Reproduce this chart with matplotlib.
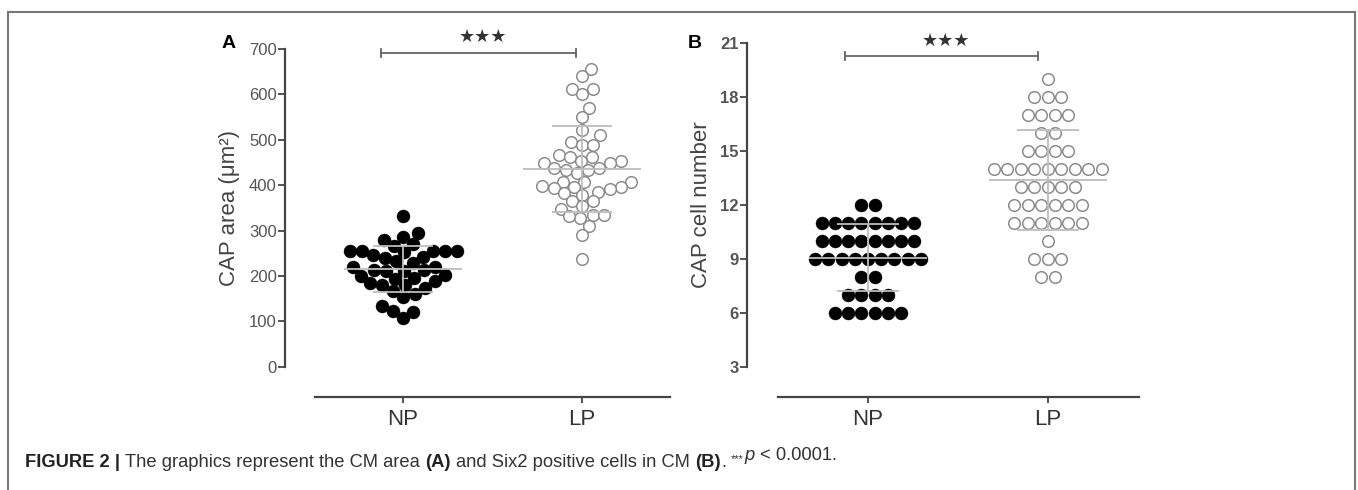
import numpy as np
import matplotlib
matplotlib.use("Agg")
import matplotlib.pyplot as plt
from matplotlib.lines import Line2D

plt.rcParams['font.family'] = ['Liberation Sans', 'DejaVu Sans']

# data
groups = ["NP", "LP"]
np_area = [333, 295, 286, 280, 271, 265, 256, 256, 256, 256, 256, 252, 246,
           242, 240, 232, 228, 220, 220, 214, 213, 211, 211, 203, 200, 196,
           193, 189, 185, 179, 179, 174, 167, 160, 153, 133, 123, 121, 107]
lp_area = [656, 640, 612, 611, 601, 570, 550, 521, 510, 495, 488, 489, 462,
           467, 462, 453, 453, 448, 448, 437, 433, 437, 433, 426, 408, 407,
           399, 393, 397, 408, 395, 392, 386, 382, 379, 364, 364, 353, 348,
           328, 335, 335, 331, 311, 291, 238]
np_cells = [12, 12,
            11, 11, 11, 11, 11, 11, 11, 11,
            10, 10, 10, 10, 10, 10, 10, 10,
            9, 9, 9, 9, 9, 9, 9, 9, 9,
            8, 8,
            7, 7, 7, 7,
            6, 6, 6, 6, 6, 6]
lp_cells = [19,
            18, 18, 18,
            17, 17, 17, 17,
            16, 16,
            15, 15, 15, 15,
            14, 14, 14, 14, 14, 14, 14, 14, 14,
            13, 13, 13, 13, 13,
            12, 12, 12, 12, 12, 12,
            11, 11, 11, 11, 11, 11,
            10,
            9, 9, 9,
            8, 8]
area_ticks = [0, 100, 200, 300, 400, 500, 600, 700]
cell_ticks = [3, 6, 9, 12, 15, 18, 21]

W, H = 1358, 490
fig = plt.figure(figsize=(W / 100, H / 100), dpi=100)


def box(l, t, r, b):
    return [l / W, 1 - b / H, (r - l) / W, (b - t) / H]


axA = fig.add_axes(box(285, 49, 670, 366.7))
axB = fig.add_axes(box(747, 42.7, 1139, 366.7))

AXC = '#444444'
DOT = 13.0  # marker diameter in px


def style(ax, ylim, yticks, xlim, xbounds, ylabel, bold):
    ax.set_xlim(xlim)
    ax.set_ylim(ylim)
    ax.patch.set_visible(False)
    for s in ['top', 'right']:
        ax.spines[s].set_visible(False)
    ax.spines['left'].set_bounds(ylim)
    ax.spines['bottom'].set_position(('outward', 21.5))
    ax.spines['bottom'].set_bounds(xbounds)
    for s in ['left', 'bottom']:
        ax.spines[s].set_color(AXC)
        ax.spines[s].set_linewidth(1.6)
    ax.set_yticks(yticks)
    ax.set_xticks([0, 1])
    ax.set_xticklabels(groups, fontsize=16, color='#333333')
    ax.tick_params(axis='y', length=5, width=1.3, color=AXC, pad=1,
                   labelsize=12, labelcolor='#555555')
    ax.tick_params(axis='x', length=4, width=1.3, color=AXC, pad=5)
    if bold:
        for t in ax.get_yticklabels():
            t.set_fontweight('bold')
    ax.set_ylabel(ylabel, fontsize=16, color='#444444', labelpad=6)


style(axA, (0, 700), area_ticks, (-0.659, 1.492), (-0.492, 1.492),
      'CAP area (μm²)', False)
style(axB, (3, 21), cell_ticks, (-0.672, 1.506), (-0.5, 1.506),
      'CAP cell number', True)


def px_scale(ax):
    o = ax.transData.transform((0, 0))
    x1 = ax.transData.transform((1, 0))
    y1 = ax.transData.transform((0, 1))
    return x1[0] - o[0], y1[1] - o[1]


def swarm(ax, vals, d):
    sx, sy = px_scale(ax)
    ypx = np.asarray(vals, float) * sy
    xs = np.zeros(len(ypx))
    placed = []
    for i in np.argsort(ypx):
        y = ypx[i]
        cands = [0.0]
        for px, py in placed:
            dy = y - py
            if abs(dy) < d:
                dx = np.sqrt(d * d - dy * dy)
                cands += [px + dx, px - dx]
        cands.sort(key=abs)
        for c in cands:
            if all((c - px) ** 2 + (y - py) ** 2 >= d * d - 1e-6
                   for px, py in placed):
                xs[i] = c
                break
        placed.append((xs[i], y))
    return xs / sx


def rows(ax, vals, d):
    sx, _ = px_scale(ax)
    vals = np.asarray(vals)
    xs = np.zeros(len(vals))
    for v in np.unique(vals):
        idx = np.where(vals == v)[0]
        n = len(idx)
        xs[idx] = (np.arange(n) - (n - 1) / 2) * d
    return xs / sx


def draw_points(ax, x0, vals, offs, filled):
    s = (DOT * 0.72) ** 2
    if filled:
        ax.scatter(x0 + offs, vals, s=s, c='black', edgecolors='black',
                   linewidths=0.3, zorder=2, clip_on=False)
    else:
        ax.scatter(x0 + offs, vals, s=(DOT * 0.72 - 1.0) ** 2, c='white',
                   edgecolors='#8c8c8c', linewidths=1.1, zorder=2,
                   clip_on=False)


def mean_sd(ax, x0, vals):
    m = np.mean(vals)
    sd = np.std(vals, ddof=1)
    kw = dict(color='#bdbdbd', lw=1.3, zorder=3, solid_capstyle='butt')
    ax.plot([x0 - 0.33, x0 + 0.33], [m, m], **kw)
    ax.plot([x0 - 0.17, x0 + 0.17], [m + sd, m + sd], **kw)
    ax.plot([x0 - 0.17, x0 + 0.17], [m - sd, m - sd], **kw)
    ax.plot([x0, x0], [m - sd, m + sd], **kw)


draw_points(axA, 0, np_area, swarm(axA, np_area, 12.0), True)
draw_points(axA, 1, lp_area, swarm(axA, lp_area, 11.5), False)
mean_sd(axA, 0, np_area)
mean_sd(axA, 1, lp_area)

draw_points(axB, 0, np_cells, rows(axB, np_cells, 13.2), True)
draw_points(axB, 1, lp_cells, rows(axB, lp_cells, 13.5), False)
mean_sd(axB, 0, np_cells)
mean_sd(axB, 1, lp_cells)


def bracket(ax, x1, x2, y, tick, label_y):
    kw = dict(color='#666666', lw=1.3, clip_on=False, zorder=4)
    ax.plot([x1, x2], [y, y], **kw)
    ax.plot([x1, x1], [y - tick, y + tick], **kw)
    ax.plot([x2, x2], [y - tick, y + tick], **kw)
    ax.text((x1 + x2) / 2 + 0.025, label_y, '★★★', ha='center',
            va='center', fontsize=13, color='#333333',
            family=['DejaVu Sans'], clip_on=False)


bracket(axA, -0.123, 0.966, 691, 8, 727)
bracket(axB, -0.128, 0.944, 20.26, 0.2, 21.1)

fig.text(229 / W, 1 - 43 / H, 'A', fontsize=14, fontweight='bold',
         ha='center', va='center')
fig.text(695 / W, 1 - 43 / H, 'B', fontsize=14, fontweight='bold',
         ha='center', va='center')

# outer frame
fkw = dict(color='#777777', lw=1.5, transform=fig.transFigure)
fig.add_artist(Line2D([8 / W, 1355 / W], [1 - 12.5 / H, 1 - 12.5 / H], **fkw))
fig.add_artist(Line2D([8 / W, 8 / W], [1 - 12.5 / H, 0], **fkw))
fig.add_artist(Line2D([1355 / W, 1355 / W], [1 - 12.5 / H, 0], **fkw))

# caption built from pieces
CS = 13.2
GAP = CS * 0.28
pieces = [
    ('FIGURE 2 |', dict(fontweight='bold', color='#222222'), 0, 0),
    ('The graphics represent the CM area', dict(color='#333333'), GAP, 0),
    ('(A)', dict(fontweight='bold', color='#222222'), GAP, 0),
    ('and Six2 positive cells in CM', dict(color='#333333'), GAP, 0),
    ('(B)', dict(fontweight='bold', color='#222222'), GAP, 0),
    ('.', dict(color='#333333'), 0.5, 0),
    ('***', dict(color='#333333', fontsize=CS * 0.6), GAP, 5),
    ('p', dict(color='#333333', style='italic'), 0.5, 0),
    ('< 0.0001.', dict(color='#333333'), GAP, 0),
]
t = fig.text(25 / W, 1 - 467 / H, pieces[0][0], fontsize=CS, va='baseline',
             **pieces[0][1])
for txt, kw, gap, rise in pieces[1:]:
    kw = dict(kw)
    kw.setdefault('fontsize', CS)
    t = axA.annotate(txt, xy=(1, 0), xycoords=t, xytext=(gap, rise),
                     textcoords='offset points', va='bottom', ha='left',
                     annotation_clip=False, **kw)

fig.savefig('out.png', dpi=100)
